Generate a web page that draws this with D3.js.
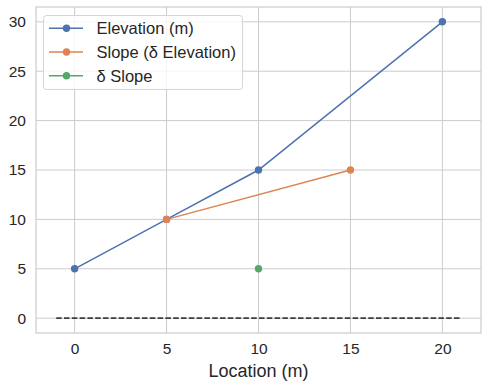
<!DOCTYPE html>
<html><head><meta charset="utf-8">
<script src="https://cdn.jsdelivr.net/npm/d3@7"></script>
<style>body{margin:0;background:#fff}svg{display:block;font-family:"Liberation Sans",Arial,sans-serif}</style>
</head><body><svg id="c" width="488" height="387"></svg>
<script>
const elevX = [0, 5, 10, 20];
const elevY = [5, 10, 15, 30];
const slopeX = [5, 15];
const slopeY = [10, 15];
const dslopeX = [10];
const dslopeY = [5];
const zeroX = [-1, 21];
const zeroY = [0, 0];
const xTicks = [0, 5, 10, 15, 20];
const yTicks = [0, 5, 10, 15, 20, 25, 30];
const seriesNames = ["Elevation (m)", "Slope (δ Elevation)", "δ Slope"];
const colors = ["#4c72b0", "#dd8452", "#55a868"];

const svg = d3.select("#c");
const L = 36, R = 481, T = 7, B = 333;
const x = d3.scaleLinear().domain([-2.1, 22.1]).range([L, R]);
const y = d3.scaleLinear().domain([-1.5, 31.5]).range([B, T]);
const txt = "#262626";

// grid
const g = svg.append("g");
g.selectAll(".vx").data(xTicks).join("line").attr("x1", d => x(d)).attr("x2", d => x(d)).attr("y1", T).attr("y2", B).attr("stroke", "#cccccc").attr("stroke-width", 1);
g.selectAll(".hy").data(yTicks).join("line").attr("y1", d => y(d)).attr("y2", d => y(d)).attr("x1", L).attr("x2", R).attr("stroke", "#cccccc").attr("stroke-width", 1);
svg.append("rect").attr("x", L).attr("y", T).attr("width", R - L).attr("height", B - T).attr("fill", "none").attr("stroke", "#cccccc").attr("stroke-width", 1.2);

// axes (tick labels via d3 axis)
const xa = svg.append("g").attr("transform", `translate(0,${B})`).call(d3.axisBottom(x).tickValues(xTicks).tickSize(0).tickPadding(10));
const ya = svg.append("g").attr("transform", `translate(${L},0)`).call(d3.axisLeft(y).tickValues(yTicks).tickSize(0).tickPadding(10));
[xa, ya].forEach(a => { a.select(".domain").remove(); a.selectAll("text").attr("fill", txt).attr("font-size", 15.5).attr("font-family", '"Liberation Sans",Arial,sans-serif'); });

svg.append("text").attr("x", (L + R) / 2).attr("y", 377).attr("text-anchor", "middle").attr("font-size", 18).attr("fill", txt).text("Location (m)");

// dashed zero line
const line = d3.line().x(d => x(d[0])).y(d => y(d[1]));
svg.append("path").attr("d", line(d3.zip(zeroX, zeroY))).attr("fill", "none").attr("stroke", "#404040").attr("stroke-width", 1.8).attr("stroke-dasharray", "5.5,2.3");

const series = [d3.zip(elevX, elevY), d3.zip(slopeX, slopeY), d3.zip(dslopeX, dslopeY)];
series.forEach((s, i) => {
  if (s.length > 1) svg.append("path").attr("d", line(s)).attr("fill", "none").attr("stroke", colors[i]).attr("stroke-width", 1.5);
  svg.selectAll(null).data(s).join("circle").attr("cx", d => x(d[0])).attr("cy", d => y(d[1])).attr("r", 3.7).attr("fill", colors[i]);
});

// legend
const lg = svg.append("g");
lg.append("rect").attr("x", 43.5).attr("y", 15.5).attr("width", 199).attr("height", 74).attr("rx", 3).attr("fill", "#fff").attr("fill-opacity", 0.8).attr("stroke", "#d5d5d5");
seriesNames.forEach((n, i) => {
  const yy = 28.3 + i * 23.7;
  lg.append("line").attr("x1", 49).attr("x2", 83).attr("y1", yy).attr("y2", yy).attr("stroke", colors[i]).attr("stroke-width", 1.5);
  lg.append("circle").attr("cx", 66.5).attr("cy", yy).attr("r", 3.7).attr("fill", colors[i]);
  lg.append("text").attr("x", 96.5).attr("y", yy + 6).attr("font-size", 16.5).attr("fill", txt).text(n);
});
</script></body></html>
